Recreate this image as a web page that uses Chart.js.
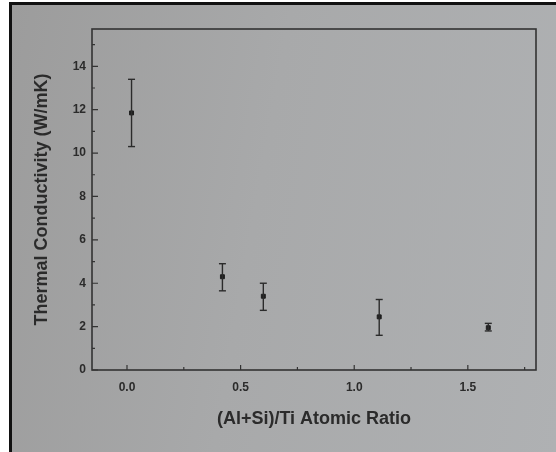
<!DOCTYPE html>
<html>
<head>
<meta charset="utf-8">
<script src="https://cdn.jsdelivr.net/npm/chart.js@4/dist/chart.umd.min.js"></script>
<style>
  html, body { margin: 0; padding: 0; background: #fff; }
  #paper {
    position: absolute; left: 9px; top: 2px; width: 544px; height: 447px;
    border-left: 3px solid #111; border-top: 3px solid #111;
    background: linear-gradient(100deg, #9c9c9c 0%, #a8a9aa 45%, #afb1b3 100%);
  }
  #wrap { position: absolute; left: 0; top: 0; width: 556px; height: 452px; }
</style>
</head>
<body>
<div id="paper"></div>
<div id="wrap"><canvas id="tcChart" width="556" height="452"></canvas></div>
<script>
// (Al+Si)/Ti ratio vs thermal conductivity
const ratios = [0.02, 0.42, 0.60, 1.11, 1.59];
const conductivity = [11.85, 4.3, 3.4, 2.45, 1.95];
const errHigh = [13.4, 4.9, 4.0, 3.25, 2.15];
const errLow = [10.3, 3.65, 2.75, 1.6, 1.8];

const xTickLabels = ['0.0', '0.5', '1.0', '1.5'];
const yTickLabels = ['0', '2', '4', '6', '8', '10', '12', '14'];

const ink = '#2b2b2b';
const labelFont = { family: 'Arial, "Liberation Sans"', size: 12, weight: 'bold' };
const titleFont = { family: 'Arial, "Liberation Sans"', size: 18, weight: 'bold' };

// error bars as little two-point line datasets, caps via 'line' point style
const errorSets = ratios.map((r, i) => ({
    type: 'scatter',
    showLine: true,
    data: [{ x: r, y: errLow[i] }, { x: r, y: errHigh[i] }],
    borderColor: ink,
    borderWidth: 1.4,
    pointStyle: 'line',
    pointRadius: 3.5,
    pointBorderWidth: 1.4,
    pointBorderColor: ink
}));

const pointSet = {
    type: 'scatter',
    data: ratios.map((r, i) => ({ x: r, y: conductivity[i] })),
    pointStyle: 'rect',
    pointRadius: 2.8,
    backgroundColor: '#1e1e1e',
    borderColor: '#1e1e1e'
};

// frame + inward ticks like the printed figure
const frameTicks = {
    id: 'frameTicks',
    afterDatasetsDraw(chart) {
        const { ctx, chartArea: a, scales } = chart;
        ctx.save();
        ctx.strokeStyle = '#333';
        ctx.lineWidth = 1.6;
        ctx.strokeRect(a.left, a.top, a.right - a.left, a.bottom - a.top);
        ctx.lineWidth = 1.2;
        ctx.beginPath();
        for (let v = 0; v <= 15; v += 1) {
            const y = scales.y.getPixelForValue(v);
            const len = v % 2 === 0 ? 6 : 3;
            ctx.moveTo(a.left, y);
            ctx.lineTo(a.left + len, y);
        }
        for (let v = 0; v <= 1.75; v += 0.25) {
            const x = scales.x.getPixelForValue(v);
            const len = Math.round(v * 4) % 2 === 0 ? 5 : 3;
            ctx.moveTo(x, a.bottom);
            ctx.lineTo(x, a.bottom - len);
        }
        ctx.stroke();
        ctx.restore();
    }
};

const ctx = document.getElementById('tcChart').getContext('2d');
new Chart(ctx, {
    type: 'scatter',
    data: { datasets: [...errorSets, pointSet] },
    options: {
        responsive: false,
        animation: false,
        layout: { padding: { left: 12, top: 29, right: 20, bottom: 0 } },
        plugins: {
            legend: { display: false },
            tooltip: { enabled: false }
        },
        scales: {
            x: {
                type: 'linear',
                min: -0.154,
                max: 1.80,
                afterBuildTicks: s => { s.ticks = xTickLabels.map(t => ({ value: parseFloat(t) })); },
                afterFit: s => { s.height = 82; },
                grid: { display: false, drawTicks: false },
                border: { display: false },
                ticks: {
                    padding: 10,
                    color: ink,
                    font: labelFont,
                    callback: (v, i) => xTickLabels[i]
                },
                title: {
                    display: true,
                    text: '(Al+Si)/Ti Atomic Ratio',
                    color: ink,
                    padding: { bottom: 22 },
                    font: titleFont
                }
            },
            y: {
                type: 'linear',
                min: 0,
                max: 15.72,
                afterBuildTicks: s => { s.ticks = yTickLabels.map(t => ({ value: parseFloat(t) })); },
                afterFit: s => { s.width = 80; },
                grid: { display: false, drawTicks: false },
                border: { display: false },
                ticks: {
                    padding: 6,
                    color: ink,
                    font: labelFont,
                    callback: (v, i) => yTickLabels[i]
                },
                title: {
                    display: true,
                    text: 'Thermal Conductivity (W/mK)',
                    color: ink,
                    padding: { top: 19 },
                    font: titleFont
                }
            }
        }
    },
    plugins: [frameTicks]
});
</script>
</body>
</html>
